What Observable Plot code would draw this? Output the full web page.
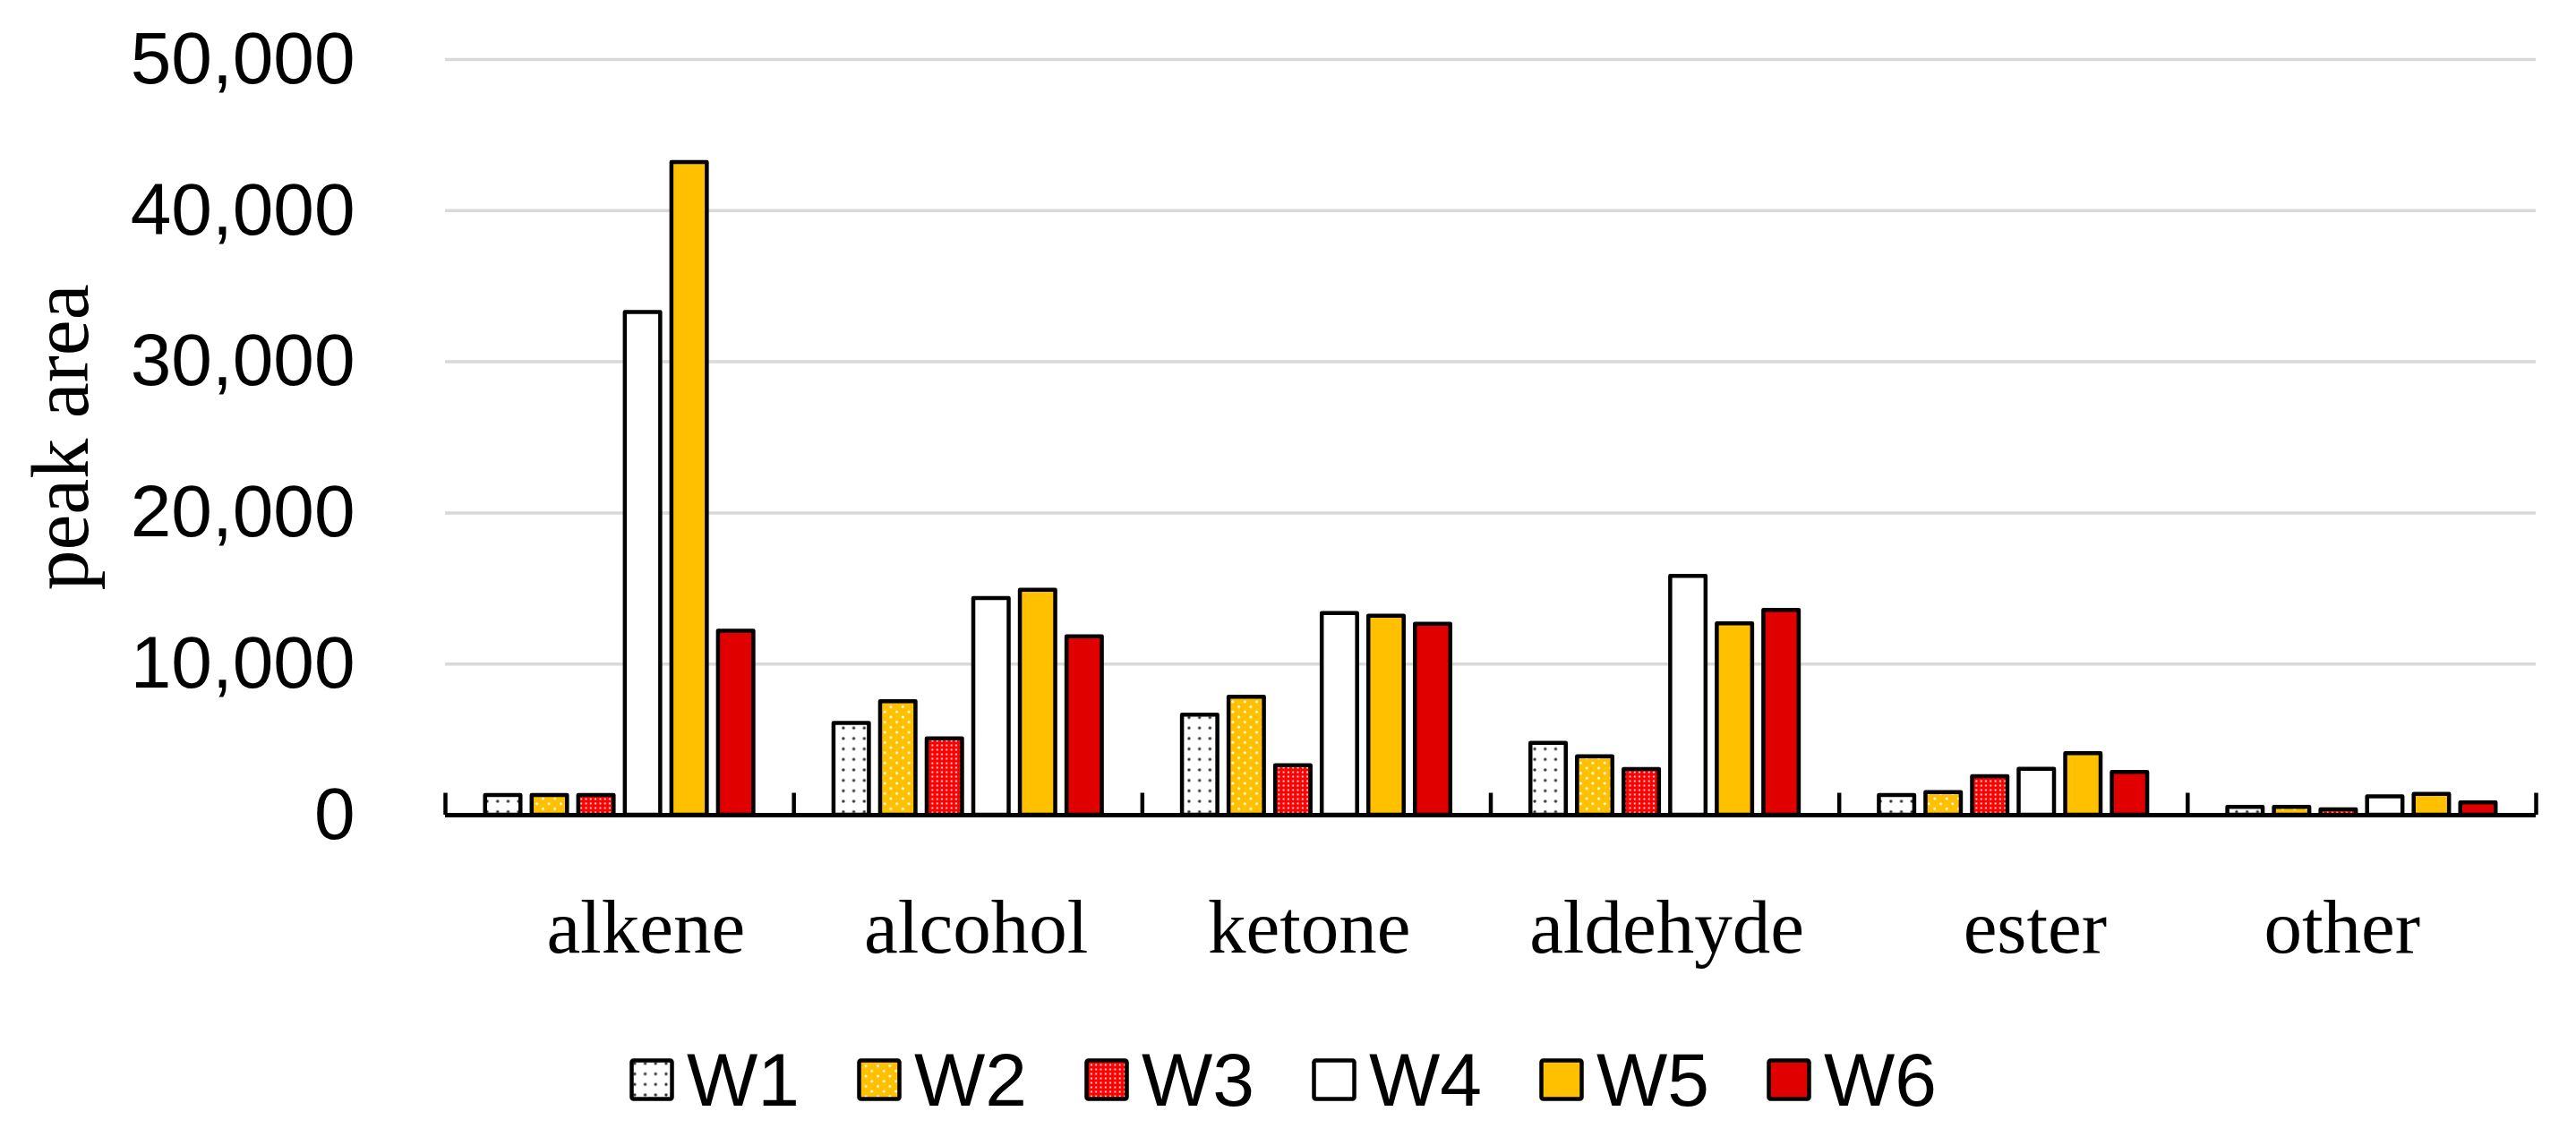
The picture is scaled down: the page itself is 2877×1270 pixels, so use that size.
<!DOCTYPE html>
<html>
<head>
<meta charset="utf-8">
<script src="https://cdn.jsdelivr.net/npm/d3@7"></script>
<script src="https://cdn.jsdelivr.net/npm/@observablehq/plot@0.6"></script>
<style>
  html, body { margin: 0; padding: 0; background: #fff; }
  #chart svg { display: block; }
  #legend {
    display: flex; justify-content: center; align-items: center;
    height: 128px; padding-top: 32px; padding-right: 11px; gap: 64px;
    font-family: "Liberation Sans", Arial, sans-serif; font-size: 84px; color: #000;
  }
  #legend .item { display: flex; align-items: center; }
  #legend .item span { margin-left: 14px; line-height: 1; }
</style>
</head>
<body>
<svg style="position:absolute;width:0;height:0" aria-hidden="true">
  <defs>
    <pattern id="pW1" patternUnits="userSpaceOnUse" width="11.7" height="11.7">
      <rect width="11.7" height="11.7" fill="#ffffff"/>
      <circle cx="5.85" cy="5.85" r="1.7" fill="#333"/>
    </pattern>
    <pattern id="pW2" patternUnits="userSpaceOnUse" width="13.4" height="11.4">
      <rect width="13.4" height="11.4" fill="#FFC000"/>
      <circle cx="3.35" cy="2.85" r="1.5" fill="#fff"/>
      <circle cx="10.05" cy="8.55" r="1.5" fill="#fff"/>
    </pattern>
    <pattern id="pW3" patternUnits="userSpaceOnUse" width="5.3" height="5">
      <rect width="5.3" height="5" fill="#FF0000"/>
      <rect x="1.6" y="1.5" width="2" height="2" fill="#fff" fill-opacity="0.85"/>
    </pattern>
    <pattern id="pW4" patternUnits="userSpaceOnUse" width="10" height="10">
      <rect width="10" height="10" fill="#ffffff"/>
    </pattern>
    <pattern id="pW5" patternUnits="userSpaceOnUse" width="10" height="10">
      <rect width="10" height="10" fill="#FFC000"/>
    </pattern>
    <pattern id="pW6" patternUnits="userSpaceOnUse" width="10" height="10">
      <rect width="10" height="10" fill="#E00000"/>
    </pattern>
  </defs>
</svg>
<div id="chart"></div>
<div id="legend"></div>
<script>
// ---- data ----
const categories = ["alkene", "alcohol", "ketone", "aldehyde", "ester", "other"];
const seriesNames = ["W1", "W2", "W3", "W4", "W5", "W6"];
const W1 = [1310, 6070, 6620, 4750, 1310, 520];
const W2 = [1310, 7510, 7800, 3870, 1500, 520];
const W3 = [1310, 5050, 3270, 3020, 2550, 360];
const W4 = [33260, 14340, 13350, 15810, 3030, 1210];
const W5 = [43190, 14890, 13160, 12670, 4070, 1370];
const W6 = [12170, 11800, 12630, 13550, 2830, 820];
const yTicks = [0, 10000, 20000, 30000, 40000, 50000];
const yLabel = "peak area";

const seriesValues = [W1, W2, W3, W4, W5, W6];
const rows = [];
categories.forEach((c, ci) => {
  seriesNames.forEach((s, si) => {
    rows.push({category: c, ci, series: s, si, value: seriesValues[si][ci]});
  });
});

// layout inside each category band (band width = 1 unit)
const step = 0.1337;
const barW = 0.1015;
const center = d => d.ci + 0.5 + (d.si - 2.5) * step;
// small horizontal nudges of the category labels (fraction of a band), as in the original layout
const labelNudge = [0.075, 0.023, -0.021, 0.005, 0.062, -0.057];

const chart = Plot.plot({
  width: 2877,
  height: 1110,
  marginLeft: 497,
  marginRight: 45,
  marginTop: 66,
  marginBottom: 200,
  style: {background: "white", color: "black", overflow: "visible"},
  x: {domain: [0, categories.length], axis: null},
  y: {domain: [0, 50000], axis: null},
  marks: [
    Plot.gridY(yTicks, {stroke: "#d9d9d9", strokeWidth: 3.5, strokeOpacity: 1}),
    Plot.axisY(yTicks, {
      tickSize: 0, tickPadding: 101, fontSize: 82,
      fontFamily: "Liberation Sans, Arial, sans-serif",
      tickFormat: d3.format(","), label: null
    }),
    Plot.rectY(rows, {
      x1: d => center(d) - barW / 2,
      x2: d => center(d) + barW / 2,
      y1: 0,
      y2: "value",
      fill: d => `url(#p${d.series})`,
      stroke: "black",
      strokeWidth: 4.5,
      strokeLinejoin: "round"
    }),
    Plot.ruleY([0], {stroke: "black", strokeWidth: 5}),
    Plot.ruleX(d3.range(categories.length + 1), {y1: 0, y2: 1450, stroke: "black", strokeWidth: 4.5}),
    Plot.axisX(categories.map((c, i) => i + 0.5 + labelNudge[i]), {
      tickSize: 0, tickPadding: 93, fontSize: 85,
      fontFamily: "Liberation Serif, Times New Roman, serif",
      tickFormat: d => categories[Math.floor(d)], label: null
    }),
    Plot.text([yLabel], {
      text: d => d,
      frameAnchor: "left",
      dx: -400,
      rotate: -90,
      lineAnchor: "bottom",
      textAnchor: "middle",
      fontSize: 90,
      fontFamily: "Liberation Serif, Times New Roman, serif",
      fill: "black"
    })
  ]
});
document.getElementById("chart").appendChild(chart);

// legend
const legend = document.getElementById("legend");
seriesNames.forEach(s => {
  const item = document.createElement("div");
  item.className = "item";
  item.innerHTML = `<svg width="50" height="48"><rect x="2.5" y="2.5" width="45" height="43" rx="2" fill="url(#p${s})" stroke="black" stroke-width="4.5"/></svg><span>${s}</span>`;
  legend.appendChild(item);
});
</script>
</body>
</html>
